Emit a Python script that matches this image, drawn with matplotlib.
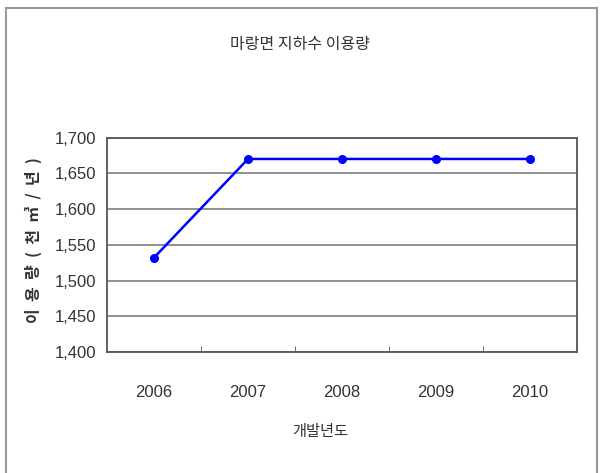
import matplotlib
matplotlib.use('Agg')
import matplotlib.pyplot as plt
from matplotlib.lines import Line2D

years = ['2006', '2007', '2008', '2009', '2010']
usage = [1532, 1670, 1670, 1670, 1670]
yticks = [1400, 1450, 1500, 1550, 1600, 1650, 1700]

kr = ['Noto Sans CJK KR', 'DejaVu Sans']
num = ['Liberation Sans Narrow', 'Liberation Sans', 'DejaVu Sans']

fig = plt.figure(figsize=(6.05, 4.73), dpi=100)
ax = fig.add_axes([0.1769, 0.2558, 0.7769, 0.4535])

x = list(range(len(years)))
ax.plot(x, usage, color='#0000ff', lw=1.8, marker='o', ms=5.5, zorder=3)

ax.set_xlim(-0.5, len(years) - 0.5)
ax.set_ylim(1400, 1700)
ax.set_yticks(yticks)
ax.set_yticklabels(['{:,}'.format(v) for v in yticks], family=num, fontsize=12, color='#333333')
ax.set_xticks(x)
ax.set_xticklabels(years, family=num, fontsize=12, color='#333333')
ax.set_xticks([i + 0.5 for i in x[:-1]], minor=True)
ax.tick_params(axis='x', which='major', length=0, pad=24)
ax.tick_params(axis='x', which='minor', direction='in', length=4, color='#555555')
ax.tick_params(axis='y', length=0, pad=8)
ax.grid(axis='y', color='#888888', lw=1.3)
ax.set_axisbelow(True)
for s in ax.spines.values():
    s.set_color('#555555')
    s.set_linewidth(1.3)

fig.text(0.496, 0.906, '마랑면 지하수 이용량', family=kr, fontsize=11.5, color='#333333',
         ha='center', va='center')
fig.text(0.529, 0.087, '개발년도', family=kr, fontsize=11, color='#333333',
         ha='center', va='center')
fig.text(0.055, 0.492, '  '.join('이용량(천㎥/년)'), family=kr, fontsize=11.5, weight='bold',
         color='#333333', ha='center', va='center', rotation=90)

# outer chart frame
fc = '#999999'
fig.add_artist(Line2D([6/605, 597/605], [1 - 8/473, 1 - 8/473], color=fc, lw=1.5))
fig.add_artist(Line2D([6/605, 6/605], [0, 1 - 8/473], color=fc, lw=1.5))
fig.add_artist(Line2D([597/605, 597/605], [0, 1 - 8/473], color=fc, lw=1.5))

fig.savefig('out.png', dpi=100)
